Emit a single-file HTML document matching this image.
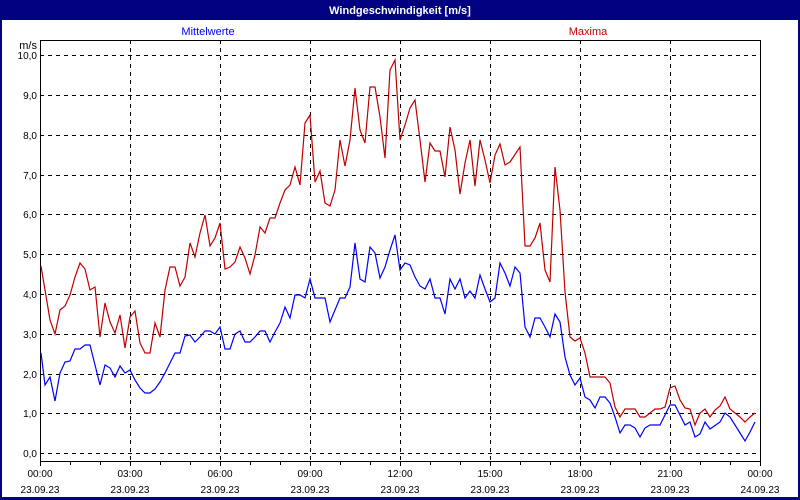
<!DOCTYPE html>
<html><head><meta charset="utf-8"><style>
body{margin:0;width:800px;height:500px;overflow:hidden;background:#fff;}
svg{display:block;font-family:"Liberation Sans",sans-serif;}
</style></head><body>
<svg width="800" height="500" viewBox="0 0 800 500" xmlns="http://www.w3.org/2000/svg">
<rect x="0" y="0" width="800" height="500" fill="#000080"/>
<rect x="2" y="20" width="796" height="477" fill="#fff"/>
<text x="400" y="14" fill="#fff" font-size="11" font-weight="bold" text-anchor="middle">Windgeschwindigkeit [m/s]</text>
<text x="208" y="35" fill="#0000ff" font-size="11" text-anchor="middle">Mittelwerte</text>
<text x="588" y="35" fill="#c00000" font-size="11" text-anchor="middle">Maxima</text>
<text x="37" y="49" font-size="11" text-anchor="end">m/s</text>
<g stroke="#000" stroke-width="1" stroke-dasharray="4,4" shape-rendering="crispEdges">
<line x1="40" y1="55.5" x2="760" y2="55.5"/><line x1="40" y1="95.5" x2="760" y2="95.5"/><line x1="40" y1="135.5" x2="760" y2="135.5"/><line x1="40" y1="175.5" x2="760" y2="175.5"/><line x1="40" y1="214.5" x2="760" y2="214.5"/><line x1="40" y1="254.5" x2="760" y2="254.5"/><line x1="40" y1="294.5" x2="760" y2="294.5"/><line x1="40" y1="334.5" x2="760" y2="334.5"/><line x1="40" y1="374.5" x2="760" y2="374.5"/><line x1="40" y1="413.5" x2="760" y2="413.5"/><line x1="40" y1="453.5" x2="760" y2="453.5"/>
<line x1="130.5" y1="40" x2="130.5" y2="461"/><line x1="220.5" y1="40" x2="220.5" y2="461"/><line x1="310.5" y1="40" x2="310.5" y2="461"/><line x1="400.5" y1="40" x2="400.5" y2="461"/><line x1="490.5" y1="40" x2="490.5" y2="461"/><line x1="580.5" y1="40" x2="580.5" y2="461"/><line x1="670.5" y1="40" x2="670.5" y2="461"/>
</g>
<g stroke="#000" stroke-width="1" shape-rendering="crispEdges">
<rect x="40.5" y="40.5" width="720" height="421" fill="none"/>
<path d="M40.5 461v5M70.5 461v4M100.5 461v4M130.5 461v5M160.5 461v4M190.5 461v4M220.5 461v5M250.5 461v4M280.5 461v4M310.5 461v5M340.5 461v4M370.5 461v4M400.5 461v5M430.5 461v4M460.5 461v4M490.5 461v5M520.5 461v4M550.5 461v4M580.5 461v5M610.5 461v4M640.5 461v4M670.5 461v5M700.5 461v4M730.5 461v4M760.5 461v5"/>
</g>
<g font-size="10" text-anchor="end">
<text x="37" y="59">10,0</text><text x="37" y="99">9,0</text><text x="37" y="139">8,0</text><text x="37" y="179">7,0</text><text x="37" y="218">6,0</text><text x="37" y="258">5,0</text><text x="37" y="298">4,0</text><text x="37" y="338">3,0</text><text x="37" y="378">2,0</text><text x="37" y="417">1,0</text><text x="37" y="457">0,0</text>
</g>
<g font-size="10" text-anchor="middle">
<text x="40" y="477">00:00</text><text x="130" y="477">03:00</text><text x="220" y="477">06:00</text><text x="310" y="477">09:00</text><text x="400" y="477">12:00</text><text x="490" y="477">15:00</text><text x="580" y="477">18:00</text><text x="670" y="477">21:00</text><text x="760" y="477">00:00</text>
<text x="40" y="493">23.09.23</text><text x="130" y="493">23.09.23</text><text x="220" y="493">23.09.23</text><text x="310" y="493">23.09.23</text><text x="400" y="493">23.09.23</text><text x="490" y="493">23.09.23</text><text x="580" y="493">23.09.23</text><text x="670" y="493">23.09.23</text><text x="760" y="493">24.09.23</text>
</g>
<polyline fill="none" stroke="#c00000" stroke-width="1.2" points="41,266 45,290 50,320 55,334 60,310 65,306 70,295 75,277 80,263 85,269 90,290 95,287 100,337 105,303 110,322 115,333 120,315 125,348 130,317 135,311 140,343 145,353 150,353 155,323 160,337 165,290 170,267 175,267 180,286 185,277 190,243 195,257 200,233 205,215 210,246 215,238 220,223 225,269 230,267 235,262 240,247 245,258 250,274 255,255 260,227 265,233 270,218 275,218 280,203 285,190 290,185 295,167 300,185 305,123 310,115 315,182 320,171 325,203 330,206 335,190 340,140 345,166 350,140 355,88 360,130 365,143 370,87 375,87 380,117 385,158 390,70 395,60 400,140 405,125 410,108 415,100 420,140 425,182 430,143 435,151 440,151 445,177 450,127 455,150 460,194 465,163 470,140 475,186 480,140 485,160 490,183 495,155 500,144 505,165 510,162 520,147 525,246 530,246 535,238 540,223 545,270 550,282 555,167 560,210 565,292 570,337 575,341 580,338 585,353 590,377 595,377 605,377 610,383 615,407 620,417 625,409 635,409 640,417 645,417 650,413 655,409 660,409 665,407 670,388 675,386 680,400 685,408 690,409 695,425 700,413 705,409 710,417 715,410 720,406 725,397 730,409 735,413 740,417 745,422 750,417 755,413"/>
<polyline fill="none" stroke="#0000ff" stroke-width="1.2" points="41,353 45,385 50,377 55,401 60,373 65,362 70,361 75,349 80,349 85,345 90,345 95,365 100,385 105,365 110,368 115,377 120,366 125,373 130,370 135,380 140,388 145,393 150,393 155,389 160,382 165,373 170,363 175,353 180,353 185,336 190,335 195,342 200,337 205,331 210,331 215,334 220,327 225,349 230,349 235,334 240,331 245,342 250,342 255,337 260,331 265,331 270,342 275,332 280,323 285,307 290,318 295,295 300,295 305,298 310,279 315,298 325,298 330,322 335,310 340,298 345,298 350,287 355,243 360,279 365,282 370,247 375,253 380,278 385,267 390,250 395,235 400,270 405,263 410,265 415,277 420,286 425,289 430,279 435,298 440,298 445,314 450,279 455,289 460,279 465,298 470,291 475,298 480,275 485,289 490,302 495,298 500,263 505,273 510,286 515,267 520,273 525,327 530,337 535,318 540,318 545,327 550,337 555,314 560,322 565,357 570,375 575,385 580,378 585,397 590,400 595,408 600,397 605,397 610,403 615,417 620,433 625,425 630,425 635,428 640,437 645,428 650,425 660,425 665,415 670,405 675,405 680,415 685,425 690,422 695,437 700,434 705,422 710,429 720,422 725,413 730,417 735,425 740,433 745,441 750,432 755,422"/>
</svg>
</body></html>
